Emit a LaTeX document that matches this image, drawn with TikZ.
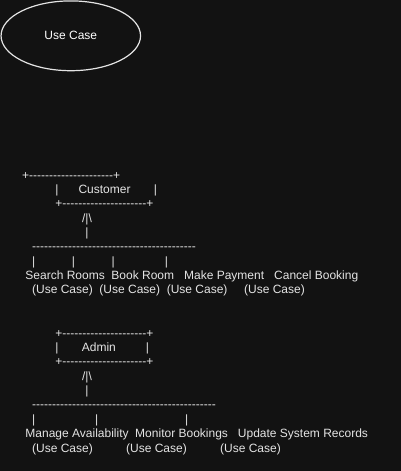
\documentclass[tikz,border=0pt]{standalone}
\usepackage{fontspec}
\setmainfont{Liberation Sans}
\definecolor{bg}{RGB}{18,18,18}
\definecolor{fg}{RGB}{228,228,228}
\newcommand\blanks[1]{\hspace*{#1\fontdimen2\font}}
\newcommand\hyph[1]{\foreach \i in {1,...,#1}{-\kern0pt}}
\tikzset{
  asc/.style={anchor=base west, inner sep=0pt, outer sep=0pt, text=fg,
    font=\fontsize{12}{14}\selectfont},
  uc/.style={draw=fg, line width=1.2pt, ellipse, minimum width=139.5pt,
    minimum height=69.8pt, inner sep=0pt, text=white,
    font=\fontsize{12}{14}\selectfont}
}
\usetikzlibrary{shapes.geometric}
\begin{document}
\begin{tikzpicture}[x=1pt,y=-1pt]
\fill[bg] (0,0) rectangle (401,471);
\useasboundingbox (0,0) rectangle (401,471);
\node[uc] (usecase) at (70.8,35.8) {Use Case};
\def\xo{22.1}
\def\ls{14.37}
% Customer block
\node[asc] (c0) at (\xo,179+0*\ls) {+\hyph{21}+};
\node[asc] (c1) at (\xo,179+1*\ls) {\blanks{10}|\blanks{6}Customer\blanks{7}|};
\node[asc] (c2) at (\xo,179+2*\ls) {\blanks{10}+\hyph{21}+};
\node[asc] (c3) at (\xo,179+3*\ls) {\blanks{18}/|\textbackslash};
\node[asc] (c4) at (\xo,179+4*\ls) {\blanks{19}|};
\node[asc] (c5) at (\xo,179+5*\ls) {\blanks{3}\hyph{41}};
\node[asc] (c6) at (\xo,179+6*\ls) {\blanks{3}|\blanks{11}|\blanks{11}|\blanks{15}|};
\node[asc] (c7) at (\xo,179+7*\ls) {\blanks{1}Search Rooms\blanks{2}Book Room\blanks{3}Make Payment\blanks{3}Cancel Booking};
\node[asc] (c8) at (\xo,179+8*\ls) {\blanks{3}(Use Case)\blanks{2}(Use Case)\blanks{2}(Use Case)\blanks{5}(Use Case)};
% Admin block
\node[asc] (a0) at (\xo,179+11*\ls) {\blanks{10}+\hyph{21}+};
\node[asc] (a1) at (\xo,179+12*\ls) {\blanks{10}|\blanks{7}Admin\blanks{9}|};
\node[asc] (a2) at (\xo,179+13*\ls) {\blanks{10}+\hyph{21}+};
\node[asc] (a3) at (\xo,179+14*\ls) {\blanks{18}/|\textbackslash};
\node[asc] (a4) at (\xo,179+15*\ls) {\blanks{19}|};
\node[asc] (a5) at (\xo,179+16*\ls) {\blanks{3}\hyph{46}};
\node[asc] (a6) at (\xo,179+17*\ls) {\blanks{3}|\blanks{18}|\blanks{26}|};
\node[asc] (a7) at (\xo,179+18*\ls) {\blanks{1}Manage Availability\blanks{2}Monitor Bookings\blanks{3}Update System Records};
\node[asc] (a8) at (\xo,179+19*\ls) {\blanks{3}(Use Case)\blanks{10}(Use Case)\blanks{10}(Use Case)};
\end{tikzpicture}
\end{document}
